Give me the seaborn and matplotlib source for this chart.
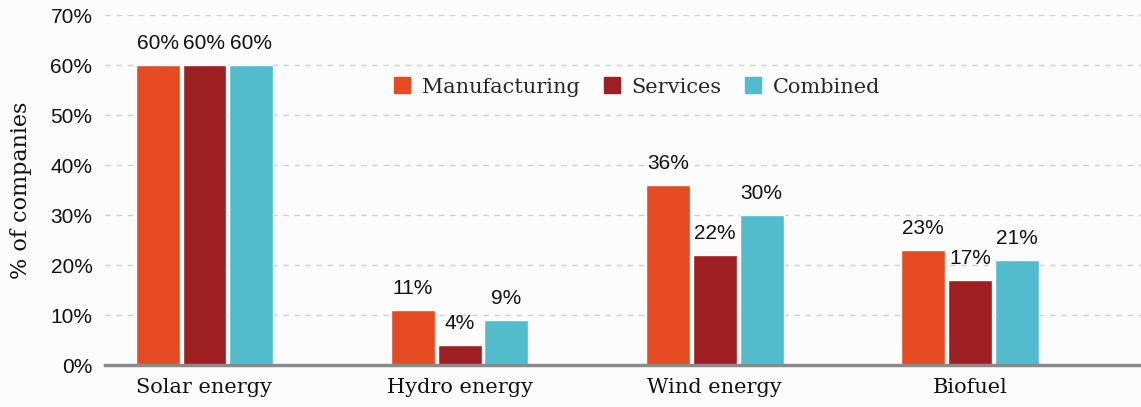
import matplotlib
matplotlib.use("Agg")
import matplotlib.pyplot as plt
import seaborn as sns
import pandas as pd
from matplotlib.ticker import PercentFormatter
from matplotlib.lines import Line2D

categories = ["Solar energy", "Hydro energy", "Wind energy", "Biofuel"]
manufacturing = [60, 11, 36, 23]
services = [60, 4, 22, 17]
combined = [60, 9, 30, 21]
series_names = ["Manufacturing", "Services", "Combined"]
yticks = [0, 10, 20, 30, 40, 50, 60, 70]

colors = ["#E64A22", "#9E1F22", "#52BCCC"]

df = pd.DataFrame({
    "category": categories * 3,
    "sector": [s for s in series_names for _ in categories],
    "value": manufacturing + services + combined,
})

sns.set_theme(style="white")
plt.rcParams["font.family"] = ["Liberation Sans", "DejaVu Sans"]
serif = ["DejaVu Serif"]

fig = plt.figure(figsize=(11.41, 4.07), dpi=100)
fig.patch.set_facecolor("#fcfcfc")
ax = fig.add_axes([0.092, 0.103, 0.908, 0.86])
ax.set_facecolor("#fcfcfc")

sns.barplot(data=df, x="category", y="value", hue="sector", order=categories,
            hue_order=series_names, palette=colors, width=0.55, gap=0.06,
            saturation=1, ax=ax, legend=False)

for cont in ax.containers:
    ax.bar_label(cont, fmt="%g%%", padding=9, fontsize=15, color="#111111")

ax.set_ylim(0, 70)
ax.set_xlim(-0.39, 3.67)
ax.set_yticks(yticks)
ax.yaxis.set_major_formatter(PercentFormatter(decimals=0))
ax.tick_params(axis="y", labelsize=15, length=0, pad=9, colors="#111111")
ax.tick_params(axis="x", length=0, pad=9)
for lab in ax.get_xticklabels():
    lab.set_fontfamily(serif)
    lab.set_fontsize(15)
    lab.set_color("#111111")

ax.grid(axis="y", color="#cfcfcf", linestyle=(0, (4, 4)), linewidth=1)
ax.set_axisbelow(True)
for side in ["top", "right", "left"]:
    ax.spines[side].set_visible(False)
ax.spines["bottom"].set_color("#8a8a8a")
ax.spines["bottom"].set_linewidth(2.5)

ax.set_xlabel("")
ax.set_ylabel("% of companies", fontsize=16, color="#111111", labelpad=13,
              fontfamily=serif)

handles = [Line2D([0], [0], marker="s", linestyle="", markersize=11,
                  markerfacecolor=c, markeredgecolor=c) for c in colors]
ax.legend(handles, series_names, loc="center", bbox_to_anchor=(0.514, 0.794),
          ncol=3, frameon=False, prop={"family": serif, "size": 15},
          handlelength=0.75, handletextpad=0.58, columnspacing=1.15)

fig.savefig("out.png", dpi=100, facecolor=fig.get_facecolor())
